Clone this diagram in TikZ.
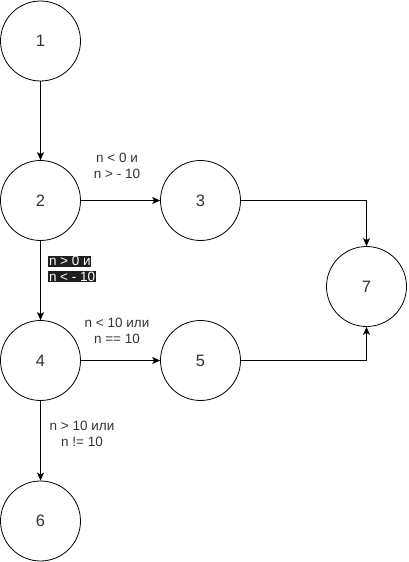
\documentclass[tikz,border=0pt]{standalone}
\usepackage{fontspec}
\setmainfont{Liberation Sans}
\usetikzlibrary{arrows.meta}
\definecolor{txt}{HTML}{333333}
\definecolor{hlbg}{HTML}{1E1E1E}
\newcommand{\darkhl}[1]{{\setlength{\fboxsep}{0.8pt}\colorbox{hlbg}{\textcolor{white}{#1}}}}
\begin{document}
\begin{tikzpicture}[x=1pt,y=-1pt,
  state/.style={circle,draw=black,line width=0.8pt,minimum size=80pt,inner sep=0pt,font=\fontsize{16.5}{18}\selectfont,text=txt},
  conn/.style={line width=0.8pt,-{Stealth[length=8pt,width=7pt,inset=2pt]}},
  lbl/.style={font=\fontsize{13.5}{16}\selectfont,text=txt,align=center,inner sep=1pt}]
\useasboundingbox (0,0) rectangle (408,562);
\node[state] (n1) at (40.5,41) {1};
\node[state] (n2) at (40.5,200.5) {2};
\node[state] (n3) at (200.5,200.5) {3};
\node[state] (n4) at (40.5,360.5) {4};
\node[state] (n5) at (200.5,360.5) {5};
\node[state] (n6) at (40.5,521) {6};
\node[state] (n7) at (366.5,286.5) {7};
\draw[conn] (n1) -- (n2);
\draw[conn] (n2) -- (n3);
\draw[conn] (n2) -- (n4);
\draw[conn] (n4) -- (n5);
\draw[conn] (n4) -- (n6);
\draw[conn] (n3.east) -| (n7.north);
\draw[conn] (n5.east) -| (n7.south);
\node[lbl] (l23) at (117,165.5) {n < 0 и\\n > - 10};
\node[lbl] (l45) at (117,331) {n < 10 или\\n == 10};
\node[lbl] (l46) at (82,434) {n > 10 или\\n != 10};
\node[lbl,anchor=west,align=left,inner sep=0pt] (l24) at (48,269) {\darkhl{n > 0 и}\\[-0.5pt]\darkhl{n < - 10}};
\end{tikzpicture}
\end{document}
